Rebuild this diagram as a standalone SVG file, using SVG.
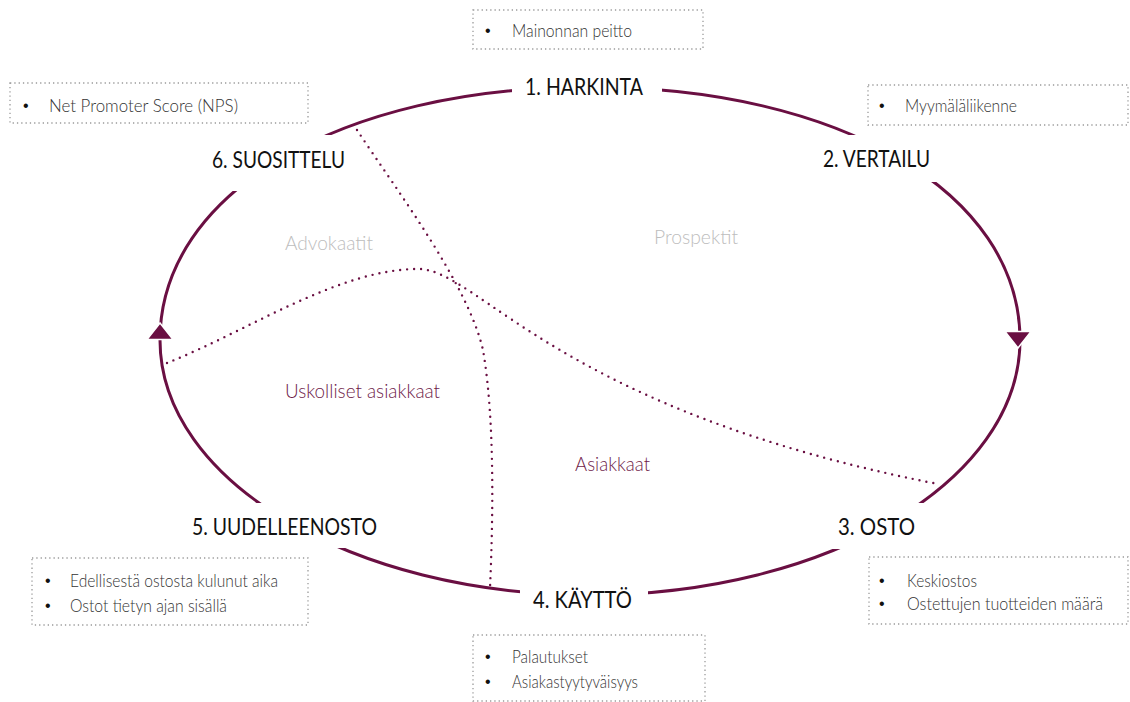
<svg xmlns="http://www.w3.org/2000/svg" width="1130" height="702" viewBox="0 0 1130 702">
<style>
.stage{font-family:Lato,"Liberation Sans",sans-serif;font-size:23px;fill:#111}
.item{font-family:Lato,"Liberation Sans",sans-serif;font-size:17px;font-weight:300;fill:#333}
.bul{font-family:"Liberation Sans",sans-serif;font-size:16px;fill:#111}
.box{fill:none;stroke:#9a9a9a;stroke-width:1.3;stroke-dasharray:1.3 3}
.cat{font-family:Lato,"Liberation Sans",sans-serif;font-size:20px;font-weight:300}
.grey{fill:#bdbdbd}
.purple{fill:#6e1a48}
.cycle{fill:none;stroke:#6a0f42;stroke-width:3}
.dots{fill:none;stroke:#6a0f42;stroke-width:2.4;stroke-linecap:round;stroke-dasharray:0 7}
.arrow{fill:#6a0f42;stroke:#fff;stroke-width:1.5}
</style>
<defs>
<mask id="gaps" maskUnits="userSpaceOnUse" x="0" y="0" width="1130" height="702">
<rect x="0" y="0" width="1130" height="702" fill="#fff"/>
<rect x="512" y="65" width="150" height="45" fill="#000"/>
<rect x="830" y="135" width="180" height="47" fill="#000"/>
<rect x="170" y="135" width="175" height="56" fill="#000"/>
<rect x="830" y="503" width="170" height="46" fill="#000"/>
<rect x="520" y="570" width="128" height="45" fill="#000"/>
<rect x="180" y="503" width="165" height="45" fill="#000"/>
</mask>
</defs>
<rect width="1130" height="702" fill="#fff"/>
<g id="connectors">
<path class="cycle" mask="url(#gaps)" d="M160,340 C160,193 340,87 590,87 C840,87 1020,193 1020,340 C1020,481 827.5,595 590,595 C352.5,595 160,481 160,340 Z"/>
<polygon class="arrow" points="160,323 147,339.5 173,339.5"/>
<polygon class="arrow" points="1005,331.5 1031,331.5 1018,348"/>
<path class="dots" d="M357,130 C400,195 468,285 483,350 C495,420 493,520 490,588"/>
<path class="dots" d="M167,363 C250,330 340,268 420,269 C480,272 560,410 938,484"/>
</g>
<g id="node-harkinta">
<text class="stage" x="525" y="95" textLength="118" lengthAdjust="spacingAndGlyphs">1. HARKINTA</text>
<rect class="box" x="473" y="10" width="230" height="39"/>
<text class="bul" x="485" y="36">•</text>
<text class="item" x="512" y="37" textLength="120" lengthAdjust="spacingAndGlyphs">Mainonnan peitto</text>
</g>
<g id="node-vertailu">
<text class="stage" x="823" y="167" textLength="107" lengthAdjust="spacingAndGlyphs">2. VERTAILU</text>
<rect class="box" x="868" y="85" width="260" height="40"/>
<text class="bul" x="879" y="111">•</text>
<text class="item" x="905" y="112" textLength="112" lengthAdjust="spacingAndGlyphs">Myymäläliikenne</text>
</g>
<g id="node-osto">
<text class="stage" x="838" y="535" textLength="77" lengthAdjust="spacingAndGlyphs">3. OSTO</text>
<rect class="box" x="869" y="557" width="259" height="67"/>
<text class="bul" x="879" y="586">•</text>
<text class="item" x="907" y="587" textLength="70" lengthAdjust="spacingAndGlyphs">Keskiostos</text>
<text class="bul" x="879" y="609">•</text>
<text class="item" x="907" y="610" textLength="196" lengthAdjust="spacingAndGlyphs">Ostettujen tuotteiden määrä</text>
</g>
<g id="node-kaytto">
<text class="stage" x="533" y="608" textLength="99" lengthAdjust="spacingAndGlyphs">4. KÄYTTÖ</text>
<rect class="box" x="473" y="635" width="232" height="66"/>
<text class="bul" x="485" y="662">•</text>
<text class="item" x="512" y="663" textLength="76" lengthAdjust="spacingAndGlyphs">Palautukset</text>
<text class="bul" x="485" y="687">•</text>
<text class="item" x="512" y="688" textLength="126" lengthAdjust="spacingAndGlyphs">Asiakastyytyväisyys</text>
</g>
<g id="node-uudelleenosto">
<text class="stage" x="192" y="535" textLength="185" lengthAdjust="spacingAndGlyphs">5. UUDELLEENOSTO</text>
<rect class="box" x="32" y="558" width="276" height="67"/>
<text class="bul" x="45" y="586">•</text>
<text class="item" x="70" y="587" textLength="208" lengthAdjust="spacingAndGlyphs">Edellisestä ostosta kulunut aika</text>
<text class="bul" x="45" y="611">•</text>
<text class="item" x="70" y="612" textLength="157" lengthAdjust="spacingAndGlyphs">Ostot tietyn ajan sisällä</text>
</g>
<g id="node-suosittelu">
<text class="stage" x="212" y="168" textLength="133" lengthAdjust="spacingAndGlyphs">6. SUOSITTELU</text>
<rect class="box" x="10" y="83" width="298" height="40"/>
<text class="bul" x="23" y="111">•</text>
<text class="item" x="49" y="112" textLength="189" lengthAdjust="spacingAndGlyphs">Net Promoter Score (NPS)</text>
</g>
<g id="segments">
<text class="cat grey" x="285" y="250" textLength="88" lengthAdjust="spacingAndGlyphs">Advokaatit</text>
<text class="cat grey" x="654" y="244" textLength="84" lengthAdjust="spacingAndGlyphs">Prospektit</text>
<text class="cat purple" x="285" y="398" textLength="155" lengthAdjust="spacingAndGlyphs">Uskolliset asiakkaat</text>
<text class="cat purple" x="575" y="471" textLength="75" lengthAdjust="spacingAndGlyphs">Asiakkaat</text>
</g>
</svg>
